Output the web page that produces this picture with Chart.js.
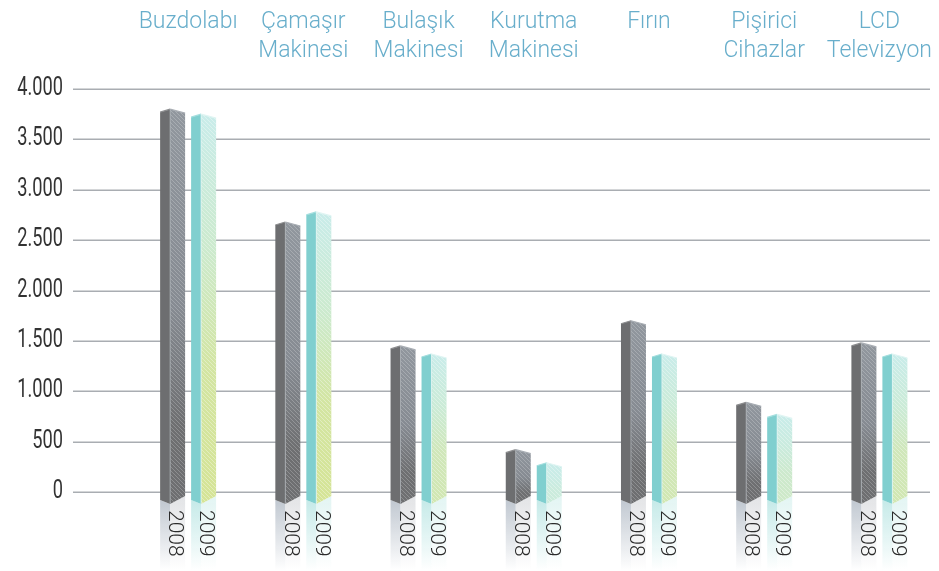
<!DOCTYPE html>
<html>
<head>
<meta charset="utf-8">
<script src="https://cdn.jsdelivr.net/npm/chart.js@4.4.0/dist/chart.umd.min.js"></script>
<style>
  body { margin: 0; background: #fff; }
  #wrap { width: 939px; height: 571px; }
</style>
</head>
<body>
<div id="wrap"><canvas id="myChart"></canvas></div>
<script>
// sales per category
const categories = [
    ['Buzdolabı', ''],
    ['Çamaşır', 'Makinesi'],
    ['Bulaşık', 'Makinesi'],
    ['Kurutma', 'Makinesi'],
    ['Fırın', ''],
    ['Pişirici', 'Cihazlar'],
    ['LCD', 'Televizyon']
]
const years = ['2008', '2009']
const sales2008 = [3800, 2680, 1450, 420, 1700, 890, 1480]
const sales2009 = [3750, 2780, 1370, 290, 1370, 770, 1370]
const yTicks = [0, 500, 1000, 1500, 2000, 2500, 3000, 3500, 4000]

// dotted number format, like 4.000
function formatNumber(v) {
    return String(v).replace(/\B(?=(\d{3})+(?!\d))/g, '.')
}

function makeHatch(alpha) {
    const c = document.createElement('canvas')
    c.width = 4
    c.height = 4
    const g = c.getContext('2d')
    g.strokeStyle = 'rgba(255,255,255,' + alpha + ')'
    g.lineWidth = 1
    g.beginPath()
    g.moveTo(-1, -1)
    g.lineTo(5, 5)
    g.stroke()
    return c
}

function mix(a, b, t) {
    const r = a.map((v, i) => Math.round(v + (b[i] - v) * t))
    return 'rgb(' + r.join(',') + ')'
}

const styles = [
    {left: '#6d6e70', rightTop: '#91979e', rightBottom: '#6e6f71', edgeL: '#8c8d8f', edgeR: '#a9aeb4',
     reflL: 'rgba(178,187,198,', reflR: 'rgba(222,223,226,', hatch: 0.22},
    {left: '#80cfcf', rightTop: '#c9ecea', rightBottom: null, edgeL: '#a3dede', edgeR: '#e0f5f3',
     reflL: 'rgba(184,229,227,', reflR: 'rgba(222,243,241,', hatch: 0.35}
]

const prismBars = {
    id: 'prismBars',
    beforeDatasetsDraw(chart) {
        const {ctx, scales} = chart
        ctx.save()
        ctx.strokeStyle = '#a9adb2'
        ctx.lineWidth = 1.5
        scales.y.ticks.forEach(t => {
            const y = Math.round(scales.y.getPixelForValue(t.value)) + 0.25
            ctx.beginPath()
            ctx.moveTo(73, y)
            ctx.lineTo(930, y)
            ctx.stroke()

            // narrow tick label, squeezed sideways
            ctx.save()
            ctx.translate(63, y + 6)
            ctx.scale(0.7, 1)
            ctx.fillStyle = '#333'
            ctx.font = '400 26px Roboto'
            ctx.textAlign = 'right'
            ctx.textBaseline = 'alphabetic'
            ctx.fillText(formatNumber(t.value), 0, 0)
            ctx.restore()
        })
        ctx.restore()
    },
    afterDatasetsDraw(chart) {
        const {ctx} = chart
        const H = chart.height
        const maxBar = chart.scales.y.getPixelForValue(0) - chart.scales.y.getPixelForValue(4000)
        chart.data.datasets.forEach((ds, di) => {
            const st = styles[di]
            const hatch = ctx.createPattern(makeHatch(st.hatch), 'repeat')
            chart.getDatasetMeta(di).data.forEach(bar => {
                const {x, y, base, width} = bar.getProps(['x', 'y', 'base', 'width'], true)
                const L = x - width / 2
                const R = x + width / 2
                const m = L + width * 0.4
                const bl = base + 8, bm = base + 12, br = base + 4
                const tl = y + 3, tr = y + 4

                // reflection under the bar
                let g = ctx.createLinearGradient(0, base, 0, H)
                g.addColorStop(0, st.reflL + '0.9)')
                g.addColorStop(1, st.reflL + '0)')
                ctx.fillStyle = g
                ctx.beginPath()
                ctx.moveTo(L, bl); ctx.lineTo(m, bm); ctx.lineTo(m, H); ctx.lineTo(L, H)
                ctx.closePath(); ctx.fill()
                g = ctx.createLinearGradient(0, base, 0, H)
                g.addColorStop(0, st.reflR + '0.9)')
                g.addColorStop(1, st.reflR + '0)')
                ctx.fillStyle = g
                ctx.beginPath()
                ctx.moveTo(m, bm); ctx.lineTo(R, br); ctx.lineTo(R, H); ctx.lineTo(m, H)
                ctx.closePath(); ctx.fill()

                // left face
                ctx.fillStyle = st.left
                ctx.beginPath()
                ctx.moveTo(L, tl); ctx.lineTo(m, y); ctx.lineTo(m, bm); ctx.lineTo(L, bl)
                ctx.closePath(); ctx.fill()

                // right face
                g = ctx.createLinearGradient(0, y, 0, bm)
                if (di === 0) {
                    g.addColorStop(0, st.rightTop)
                    g.addColorStop(0.5, '#868b92')
                    g.addColorStop(0.8, st.rightBottom)
                    g.addColorStop(1, st.rightBottom)
                } else {
                    const t = Math.min(1, (bm - y) / maxBar * 1.8)
                    g.addColorStop(0, st.rightTop)
                    g.addColorStop(0.35, mix([201, 236, 234], [204, 234, 205], t))
                    g.addColorStop(0.65, mix([201, 236, 234], [211, 229, 162], t))
                    g.addColorStop(1, mix([201, 236, 234], [213, 228, 150], t))
                }
                ctx.fillStyle = g
                ctx.beginPath()
                ctx.moveTo(m, y); ctx.lineTo(R, tr); ctx.lineTo(R, br); ctx.lineTo(m, bm)
                ctx.closePath(); ctx.fill()
                ctx.fillStyle = hatch
                ctx.fill()

                // edges
                ctx.lineWidth = 1.2
                ctx.strokeStyle = st.edgeL
                ctx.beginPath(); ctx.moveTo(L, tl); ctx.lineTo(m, y); ctx.stroke()
                ctx.strokeStyle = st.edgeR
                ctx.beginPath(); ctx.moveTo(m, y); ctx.lineTo(R, tr); ctx.stroke()
                ctx.lineWidth = 0.8
                ctx.beginPath(); ctx.moveTo(m, y); ctx.lineTo(m, bm); ctx.stroke()

                // year label, turned clockwise
                ctx.save()
                ctx.translate(x + 2, bm - 2)
                ctx.rotate(Math.PI / 2)
                ctx.fillStyle = '#2b2b2b'
                ctx.font = '300 21px Roboto'
                ctx.textAlign = 'left'
                ctx.textBaseline = 'middle'
                ctx.fillText(ds.label, 8, 0)
                ctx.restore()
            })
        })
    }
}

new Chart(document.querySelector('#myChart'), {
    type: 'bar',
    data: {
        labels: categories,
        datasets: [
            {label: years[0], data: sales2008},
            {label: years[1], data: sales2009}
        ].map(d => Object.assign(d, {
            backgroundColor: 'rgba(0,0,0,0)',
            borderWidth: 0,
            categoryPercentage: 0.538,
            barPercentage: 0.806
        }))
    },
    options: {
        responsive: true,
        maintainAspectRatio: false,
        animation: false,
        layout: {padding: {left: 0, right: 2, top: 0, bottom: 79}},
        plugins: {legend: {display: false}, tooltip: {enabled: false}},
        scales: {
            x: {
                position: 'top',
                grid: {display: false, drawTicks: false},
                border: {display: false},
                ticks: {
                    color: '#68aecb',
                    font: {family: 'Roboto', weight: '300', size: 23, lineHeight: 29 / 23},
                    padding: 23,
                    maxRotation: 0,
                    autoSkip: false
                },
                afterFit: s => {
                    s.height = 89
                    s.paddingLeft = 0
                    s.paddingRight = 0
                }
            },
            y: {
                min: 0,
                max: 4000,
                afterBuildTicks: s => { s.ticks = yTicks.map(v => ({value: v})) },
                grid: {display: false, drawTicks: false},
                border: {display: false},
                ticks: {display: false},
                afterFit: s => { s.width = 130.5 }
            }
        }
    },
    plugins: [prismBars]
})
</script>
</body>
</html>
